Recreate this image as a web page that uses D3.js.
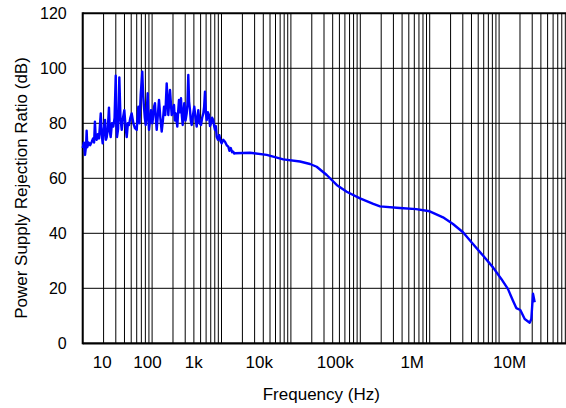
<!DOCTYPE html>
<html>
<head>
<meta charset="utf-8">
<script src="https://cdn.jsdelivr.net/npm/d3@7"></script>
<style>
  html, body { margin: 0; padding: 0; background: #fff; }
  svg { display: block; }
</style>
</head>
<body>
<svg id="chart"></svg>
<script>
// PSRR vs frequency
const freqHz = [
  10, 10.4, 10.8, 11.2, 11.4, 11.65, 12.2, 12.8, 13.5, 14.1,
  14.6, 15.0, 15.4, 15.9, 16.5, 17.2, 18.2, 18.8, 19.4, 20.2,
  21.0, 21.6, 22.2, 23.0, 23.9, 24.6, 25.3, 26.4, 27.6, 28.8,
  29.9, 30.5, 31.2, 32.4, 33.7, 35.0, 36.5, 38.1, 39.8, 41.4,
  43.1, 44.8, 46.5, 48.6, 50.8, 53.7, 56.7, 60.0, 63.3, 65.8,
  68.5, 72.2, 74.3, 76.4, 78.6, 80.9, 83.6, 86.4, 88.3, 90.2,
  93.3, 96.4, 101, 106.5, 110, 113, 116.5, 121, 125.8, 131.5,
  137.5, 143, 148.5, 155, 162.3, 171.2, 181.1, 191.6, 206.8, 212.7,
  218.9, 230.7, 237, 244.1, 252, 260.9, 268, 276.0, 283, 291.1,
  303, 315.2, 323, 332.4, 341, 351.7, 361, 372.1, 388, 405.6,
  422, 439.3, 451, 463.2, 484, 506.6, 526, 546.8, 562, 578.4,
  595, 612.0, 636, 660.6, 683, 706.0, 733, 761.8, 783, 806.0,
  828, 852.8, 890, 929.5, 968, 1007, 1060, 1123, 1190, 1253,
  1300, 1360, 1420, 1479, 1520, 1564, 2575, 4480, 7774, 13520,
  18850, 23540, 32800, 45710, 63700, 99010, 153900, 192300, 369500, 641100,
  1.0e6, 1.555e6, 2.166e6, 3.019e6, 4.206e6, 5.861e6, 8.168e6, 1.076e7, 1.344e7, 1.586e7,
  1.769e7, 2.021e7, 2.338e7, 2.760e7, 2.911e7, 3.080e7, 3.258e7
]
const psrrDb = [
  71, 73, 68.5, 72, 77.3, 71.3, 73, 72, 73.3, 74.5,
  73, 80.6, 75, 74, 76, 74.5, 83.6, 76, 72.7, 78,
  81.2, 74, 75, 78, 85.7, 77, 75, 80, 78.8, 82,
  97.3, 80, 75, 78, 96.7, 82, 77.6, 82, 84.8, 79,
  75, 80, 79.4, 82, 83.6, 80, 78.2, 77.6, 86, 80,
  90.3, 98.8, 90, 86, 82, 79.4, 84, 90.9, 82, 77.6,
  81, 84.8, 80, 86, 87.3, 82, 77.6, 83, 88.5, 82,
  77, 81, 86, 83, 94.5, 83, 92.1, 83, 86.7, 81,
  83.6, 78.8, 84, 88.5, 84, 89.1, 83, 79.4, 84, 87.3,
  81, 83.6, 87, 97.6, 88, 84.8, 81, 79.4, 83, 86,
  82, 78.8, 82, 84.8, 80, 79.4, 82, 83.6, 86, 91.5,
  84, 81.2, 84, 83, 79, 80, 82, 81.2, 79, 77.6,
  79, 75.1, 74, 75.7, 73.5, 72.7, 74, 73.3, 72, 71.5,
  70, 71, 69.5, 69.7, 69, 69.1, 69.3, 68.5, 66.9, 66.1,
  65.2, 64.2, 61.2, 57.6, 55.1, 52.7, 50.7, 49.8, 49.2, 48.8,
  48, 45.8, 43.4, 40.4, 36.1, 31.9, 27.6, 23.4, 19.7, 15.5,
  12.8, 12.1, 8.8, 7.5, 8.8, 18, 14.9
]

const yTicks = [0, 20, 40, 60, 80, 100, 120]
const xTickLabels = ['10', '100', '1k', '10k', '100k', '1M', '10M']
// where the labels sit on the frequency axis in the original
const xTickLabelFreqs = [18.8, 84.4, 392, 3436, 42770, 550500, 1.389e7]
const xDomain = [10, 1e8]
const yDomain = [0, 120]

const width = 566
const height = 408
const margin = { left: 82.7, top: 13.3 }
const plotW = 485.8
const plotH = 330
const FONT = 'Arial, "Liberation Sans", sans-serif'

const svg = d3.select('#chart')
  .attr('width', width)
  .attr('height', height)
  .attr('viewBox', `0 0 ${width} ${height}`)

svg.append('rect')
  .attr('width', width)
  .attr('height', height)
  .attr('fill', '#fff')

const x = d3.scaleLog().domain(xDomain).range([0, plotW])
const y = d3.scaleLinear().domain(yDomain).range([plotH, 0])

const g = svg.append('g')
  .attr('transform', `translate(${margin.left},${margin.top})`)

// log grid: every 1..9 multiple in each decade
const gridFreqs = []
d3.range(Math.log10(xDomain[0]), Math.log10(xDomain[1])).forEach(p => {
  d3.range(1, 10).forEach(k => gridFreqs.push(k * Math.pow(10, p)))
})

g.append('g')
  .attr('class', 'vgrid')
  .selectAll('line')
  .data(gridFreqs)
  .enter()
  .append('line')
  .attr('x1', d => x(d))
  .attr('x2', d => x(d))
  .attr('y1', 0)
  .attr('y2', plotH)
  .attr('stroke', '#000')
  .attr('stroke-width', 1)

g.append('g')
  .attr('class', 'hgrid')
  .selectAll('line')
  .data(yTicks.filter(d => d > 0 && d < 120))
  .enter()
  .append('line')
  .attr('x1', 0)
  .attr('x2', plotW)
  .attr('y1', d => y(d))
  .attr('y2', d => y(d))
  .attr('stroke', '#000')
  .attr('stroke-width', 1)

// frame: top, left, bottom (right edge is cut off by the picture)
g.append('line')
  .attr('x1', 0).attr('x2', plotW)
  .attr('y1', y(120)).attr('y2', y(120))
  .attr('stroke', '#000').attr('stroke-width', 2)
g.append('line')
  .attr('x1', 0).attr('x2', plotW)
  .attr('y1', y(0)).attr('y2', y(0))
  .attr('stroke', '#000').attr('stroke-width', 2.2)
g.append('line')
  .attr('x1', x(xDomain[0])).attr('x2', x(xDomain[0]))
  .attr('y1', -1).attr('y2', plotH + 1)
  .attr('stroke', '#000').attr('stroke-width', 2)

const points = freqHz.map((f, i) => ({ f, v: psrrDb[i] }))

const line = d3.line()
  .x(d => x(d.f))
  .y(d => y(d.v))

g.append('path')
  .datum(points)
  .attr('fill', 'none')
  .attr('stroke', '#0000ff')
  .attr('stroke-width', 2.4)
  .attr('stroke-linejoin', 'round')
  .attr('d', line)

// axes (labels only)
const yAxis = g.append('g')
  .call(d3.axisLeft(y).tickValues(yTicks).tickSize(0).tickPadding(16))
yAxis.select('.domain').remove()
yAxis.selectAll('text')
  .attr('font-family', FONT)
  .attr('font-size', '16px')
  .attr('fill', '#000')

const xAxis = g.append('g')
  .attr('transform', `translate(0,${plotH})`)
  .call(d3.axisBottom(x)
    .tickValues(xTickLabelFreqs)
    .tickFormat((d, i) => xTickLabels[i])
    .tickSize(0)
    .tickPadding(13))
xAxis.select('.domain').remove()
xAxis.selectAll('text')
  .attr('font-family', FONT)
  .attr('font-size', '17px')
  .attr('fill', '#000')

svg.append('text')
  .attr('x', 321.3)
  .attr('y', 400)
  .attr('text-anchor', 'middle')
  .attr('font-family', FONT)
  .attr('font-size', '17px')
  .attr('fill', '#000')
  .text('Frequency (Hz)')

svg.append('text')
  .attr('transform', 'translate(27,188) rotate(-90)')
  .attr('text-anchor', 'middle')
  .attr('font-family', FONT)
  .attr('font-size', '17px')
  .attr('fill', '#000')
  .text('Power Supply Rejection Ratio (dB)')
</script>
</body>
</html>
